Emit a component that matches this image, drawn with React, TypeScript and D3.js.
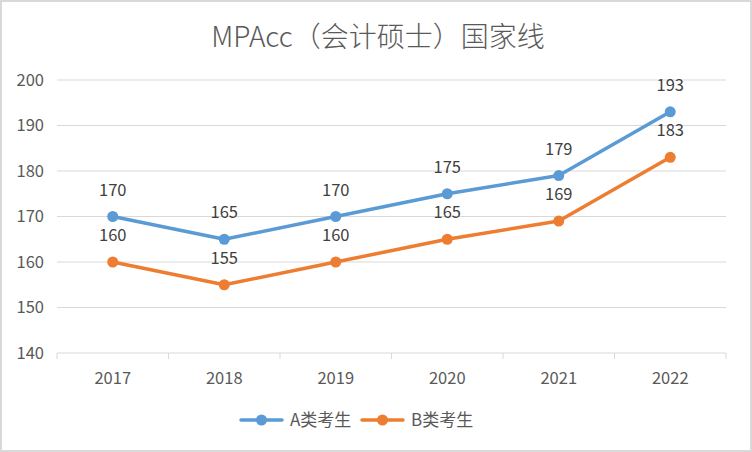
import React, { useEffect, useRef } from 'react';
import * as d3 from 'd3';

const years = ['2017', '2018', '2019', '2020', '2021', '2022'];
const seriesA = [170, 165, 170, 175, 179, 193];
const seriesB = [160, 155, 160, 165, 169, 183];
const yTicks = [140, 150, 160, 170, 180, 190, 200];
const seriesNames = ['A类考生', 'B类考生'];
const seriesColors = ['#5b9bd5', '#ed7d31'];

const FONT = '"Noto Sans CJK SC", "Microsoft YaHei", sans-serif';

const App: React.FC = () => {
  const svgRef = useRef<SVGSVGElement>(null);

  useEffect(() => {
    if (!svgRef.current) return;
    const svg = d3.select(svgRef.current);
    svg.selectAll('*').remove();

    const width = 752;
    const height = 452;
    const margin = { top: 80, right: 26, bottom: 99, left: 57 };
    const plotW = width - margin.left - margin.right;
    const plotH = height - margin.top - margin.bottom;

    // background + frame
    svg.append('rect')
      .attr('x', 1).attr('y', 1)
      .attr('width', width - 2).attr('height', height - 2)
      .attr('fill', '#fff')
      .attr('stroke', '#d9d9d9')
      .attr('stroke-width', 2);

    // title
    svg.append('text')
      .attr('x', width / 2 + 2)
      .attr('y', 47)
      .attr('text-anchor', 'middle')
      .attr('fill', '#595959')
      .attr('font-family', FONT)
      .attr('font-size', '28px')
      .attr('font-weight', 300)
      .text('MPAcc（会计硕士）国家线');

    const x = d3.scaleBand().domain(years).range([0, plotW]);
    const y = d3.scaleLinear().domain([140, 200]).range([plotH, 0]);

    const g = svg.append('g').attr('transform', `translate(${margin.left},${margin.top})`);

    // gridlines
    g.selectAll('.grid')
      .data(yTicks)
      .enter()
      .append('line')
      .attr('x1', 0).attr('x2', plotW)
      .attr('y1', d => y(d)).attr('y2', d => y(d))
      .attr('stroke', '#d9d9d9')
      .attr('stroke-width', 1);

    // y labels
    g.selectAll('.ylab')
      .data(yTicks)
      .enter()
      .append('text')
      .attr('x', -13)
      .attr('y', d => y(d))
      .attr('dy', '0.35em')
      .attr('text-anchor', 'end')
      .attr('fill', '#595959')
      .attr('font-family', FONT)
      .attr('font-size', '16.5px')
      .text(d => d);

    // x ticks (between categories)
    const tickPos = years.map(d => x(d)!).concat([plotW]);
    g.selectAll('.xtick')
      .data(tickPos)
      .enter()
      .append('line')
      .attr('x1', d => d).attr('x2', d => d)
      .attr('y1', plotH).attr('y2', plotH + 6)
      .attr('stroke', '#d9d9d9');

    // x labels
    g.selectAll('.xlab')
      .data(years)
      .enter()
      .append('text')
      .attr('x', d => x(d)! + x.bandwidth() / 2)
      .attr('y', plotH + 31)
      .attr('text-anchor', 'middle')
      .attr('fill', '#595959')
      .attr('font-family', FONT)
      .attr('font-size', '16.5px')
      .text(d => d);

    const cx = (d: string) => x(d)! + x.bandwidth() / 2;
    const line = d3.line<number>()
      .x((_, i) => cx(years[i]))
      .y(d => y(d));

    [seriesA, seriesB].forEach((data, si) => {
      g.append('path')
        .datum(data)
        .attr('d', line)
        .attr('fill', 'none')
        .attr('stroke', seriesColors[si])
        .attr('stroke-width', 3.5)
        .attr('stroke-linejoin', 'round')
        .attr('stroke-linecap', 'round');

      g.selectAll(`.pt${si}`)
        .data(data)
        .enter()
        .append('circle')
        .attr('cx', (_, i) => cx(years[i]))
        .attr('cy', d => y(d))
        .attr('r', 5.5)
        .attr('fill', seriesColors[si]);

      g.selectAll(`.lab${si}`)
        .data(data)
        .enter()
        .append('text')
        .attr('x', (_, i) => cx(years[i]))
        .attr('y', d => y(d) - 21)
        .attr('text-anchor', 'middle')
        .attr('fill', '#404040')
        .attr('font-family', FONT)
        .attr('font-size', '16.5px')
        .text(d => d);
    });

    // legend
    const legendY = 420;
    const legendX = [241, 362];
    seriesNames.forEach((name, i) => {
      const lg = svg.append('g').attr('transform', `translate(${legendX[i]},${legendY})`);
      lg.append('line')
        .attr('x1', 0).attr('x2', 41)
        .attr('y1', 0).attr('y2', 0)
        .attr('stroke', seriesColors[i])
        .attr('stroke-width', 3.5)
        .attr('stroke-linecap', 'round');
      lg.append('circle')
        .attr('cx', 20.5).attr('cy', 0).attr('r', 5.5)
        .attr('fill', seriesColors[i]);
      lg.append('text')
        .attr('x', 49)
        .attr('y', 0)
        .attr('dy', '0.35em')
        .attr('fill', '#595959')
        .attr('font-family', FONT)
        .attr('font-size', '17px')
        .text(name);
    });
  }, []);

  return (
    <div style={{ position: 'fixed', left: 0, top: 0 }}>
      <svg ref={svgRef} width={752} height={452} style={{ display: 'block' }} />
    </div>
  );
};

export default App;
